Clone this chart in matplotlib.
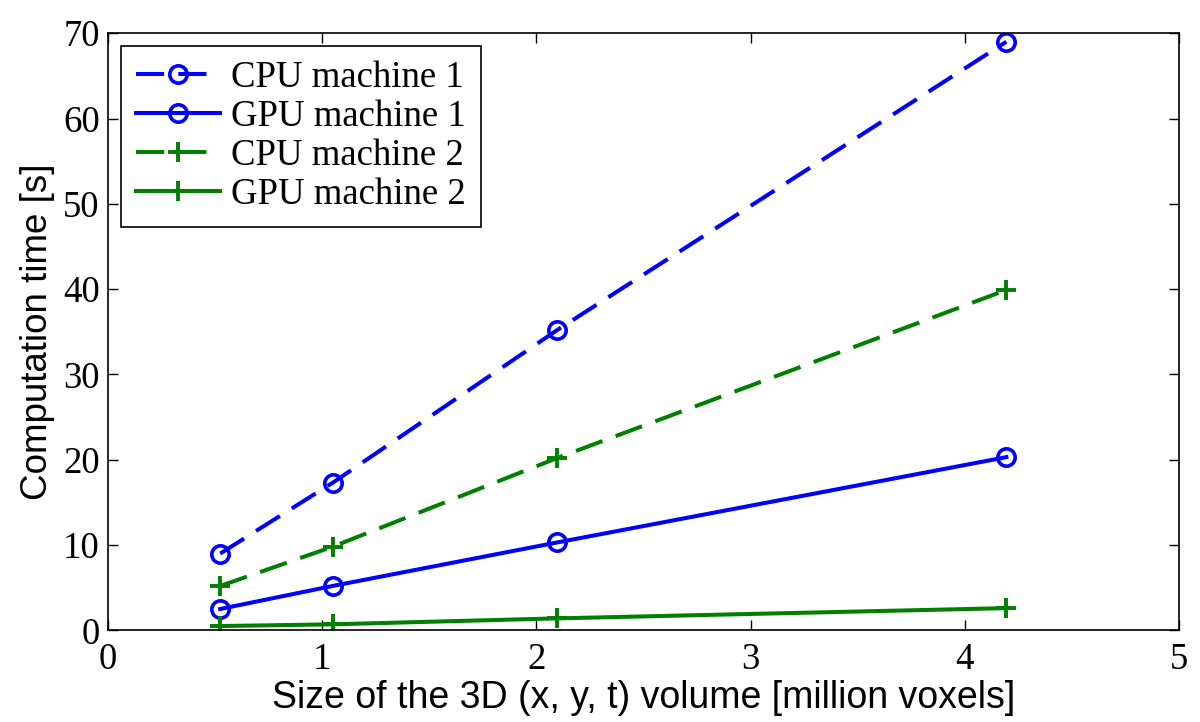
import matplotlib
matplotlib.use("Agg")
import matplotlib.pyplot as plt

# volume sizes (million voxels)
sizes = [0.524, 1.049, 2.097, 4.194]

cpu_machine1 = [9.0, 17.3, 35.2, 69.0]
gpu_machine1 = [2.5, 5.2, 10.3, 20.3]
cpu_machine2 = [5.2, 9.8, 20.2, 39.9]
gpu_machine2 = [0.5, 0.7, 1.4, 2.6]

series_labels = ["CPU machine 1", "GPU machine 1", "CPU machine 2", "GPU machine 2"]
x_ticks = [0, 1, 2, 3, 4, 5]
y_ticks = [0, 10, 20, 30, 40, 50, 60, 70]

blue, green = "#0000ff", "#007f00"
dashed = (0, (7, 3.5))
fsize = 26.5

fig = plt.figure(figsize=(12, 7.22), dpi=100)
ax = fig.add_axes([0.09, 0.127, 0.8925, 0.827])

ax.plot(sizes, cpu_machine1, color=blue, ls=dashed, lw=2.9, marker="o", ms=12.5,
        mew=2.6, mfc="none", label=series_labels[0])
ax.plot(sizes, gpu_machine1, color=blue, ls="-", lw=2.9, marker="o", ms=12.5,
        mew=2.6, mfc="none", label=series_labels[1])
ax.plot(sizes, cpu_machine2, color=green, ls=dashed, lw=2.9, marker="+", ms=15,
        mew=2.8, label=series_labels[2])
ax.plot(sizes, gpu_machine2, color=green, ls="-", lw=2.9, marker="+", ms=15,
        mew=2.8, label=series_labels[3])

ax.set_xlim(0, 5)
ax.set_ylim(0, 70)
ax.set_xticks(x_ticks)
ax.set_yticks(y_ticks)
ax.tick_params(direction="in", length=7, width=1, top=True, right=True,
               labelsize=fsize)
ax.tick_params(axis="x", pad=9)
ax.tick_params(axis="y", pad=6)
for lbl in ax.get_xticklabels() + ax.get_yticklabels():
    lbl.set_family("Liberation Serif")
for s in ax.spines.values():
    s.set_linewidth(1.2)

ax.set_xlabel("Size of the 3D (x, y, t) volume [million voxels]",
              family="Liberation Sans", fontsize=27, labelpad=2)
ax.set_ylabel("Computation time [s]", family="Liberation Sans", fontsize=fsize,
              labelpad=6)

leg = ax.legend(loc="upper left", prop={"family": "Liberation Serif", "size": fsize},
                fancybox=False, edgecolor="black", framealpha=1,
                handlelength=2.3, handletextpad=0.3, borderpad=0.4,
                labelspacing=0.12, borderaxespad=0.35)
leg.get_frame().set_linewidth(1.2)

fig.savefig("out.png", dpi=100)
